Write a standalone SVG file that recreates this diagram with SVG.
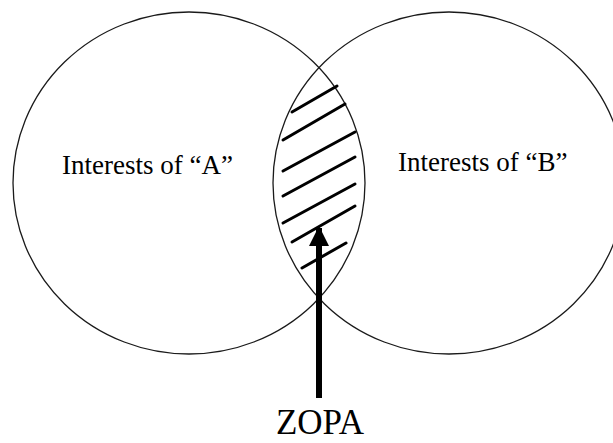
<svg xmlns="http://www.w3.org/2000/svg" width="613" height="443" viewBox="0 0 613 443">
  <style>
    .circle { fill: none; stroke: #1a1a1a; stroke-width: 1.3; }
    .label { font-family: "Liberation Serif", "DejaVu Serif", serif; fill: #000; }
    .hatch { stroke: #000; stroke-width: 3; stroke-linecap: round; }
    .arrow { stroke: #000; stroke-width: 6; fill: none; }
  </style>
  <defs>
    <marker id="head" viewBox="0 0 10 10" refX="9" refY="5" markerWidth="3.4" markerHeight="3.4" orient="auto" markerUnits="strokeWidth">
      <path d="M0,0 L10,5 L0,10 Z" fill="#000"/>
    </marker>
  </defs>
  <rect x="0" y="0" width="613" height="443" fill="#fff"/>
  <g id="interestsA">
    <ellipse class="circle" cx="189" cy="183" rx="176" ry="171"/>
    <text class="label" x="62" y="174" font-size="27">Interests of “A”</text>
  </g>
  <g id="interestsB">
    <ellipse class="circle" cx="449" cy="183" rx="176" ry="171"/>
    <text class="label" x="398" y="171" font-size="27">Interests of “B”</text>
  </g>
  <g id="zopaArea">
    <line class="hatch" x1="292" y1="112" x2="337" y2="86"/>
    <line class="hatch" x1="283" y1="140" x2="345" y2="104"/>
    <line class="hatch" x1="283" y1="171" x2="355" y2="132"/>
    <line class="hatch" x1="283" y1="196" x2="355" y2="157"/>
    <line class="hatch" x1="283" y1="223" x2="355" y2="184"/>
    <line class="hatch" x1="292" y1="242" x2="355" y2="206"/>
    <line class="hatch" x1="302" y1="268" x2="346" y2="243"/>
  </g>
  <g id="zopaLabel">
    <text class="label" x="320" y="434" font-size="35" text-anchor="middle">ZOPA</text>
  </g>
  <g id="connectors">
    <line class="arrow" x1="319" y1="398" x2="319" y2="228" marker-end="url(#head)"/>
  </g>
</svg>
